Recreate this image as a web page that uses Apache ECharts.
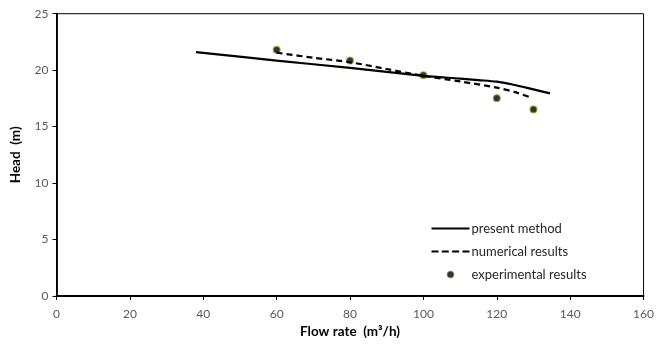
<!DOCTYPE html>
<html>
<head>
<meta charset="utf-8">
<script src="https://cdn.jsdelivr.net/npm/echarts@6/dist/echarts.min.js"></script>
<style>html,body{margin:0;padding:0;background:#fff}#c{width:657px;height:344px}</style>
</head>
<body>
<div id="c"></div>
<script>
const presentX = [38, 60, 80, 100, 110, 115, 120, 124, 128, 134.5];
const presentY = [21.6, 20.85, 20.2, 19.5, 19.25, 19.12, 18.98, 18.75, 18.45, 17.95];
const numericalX = [60, 70, 80, 90, 100, 110, 120, 125, 129.5];
const numericalY = [21.55, 21.1, 20.7, 20.1, 19.5, 19.0, 18.45, 18.05, 17.55];
const expX = [60, 80, 100, 120, 130];
const expY = [21.8, 20.85, 19.55, 17.52, 16.52];
const xTicks = [0, 20, 40, 60, 80, 100, 120, 140, 160];
const yTicks = [0, 5, 10, 15, 20, 25];
const seriesNames = ['present method', 'numerical results', 'experimental results'];

const zip = (a, b) => a.map((v, i) => [v, b[i]]);
const font = 'Lato, "Open Sans", sans-serif';
const solidIcon = 'path://M0,0H38V2.2H0Z';
const dashedIcon = 'path://M0,0H7V2.2H0ZM10.3,0H17.3V2.2H10.3ZM20.6,0H27.6V2.2H20.6ZM31,0H38V2.2H31Z';
const chart = echarts.init(document.getElementById('c'), null, {renderer: 'canvas'});
chart.setOption({
  animation: false,
  textStyle: {fontFamily: font},
  grid: {left: 56.5, right: 12, top: 13.7, bottom: 45.3, show: true, borderColor: '#000', borderWidth: 1},
  xAxis: {
    type: 'value', min: xTicks[0], max: xTicks[xTicks.length - 1], interval: 20,
    name: 'Flow rate  (m³/h)', nameLocation: 'middle', nameGap: 29,
    nameTextStyle: {fontWeight: 'bold', fontSize: 13.5, color: '#000', fontFamily: font},
    axisLine: {lineStyle: {color: '#000', width: 1.8}},
    axisTick: {show: true, length: 4, lineStyle: {color: '#000'}},
    axisLabel: {color: '#595959', fontSize: 12, margin: 12, fontFamily: font},
    splitLine: {show: false}
  },
  yAxis: {
    type: 'value', min: yTicks[0], max: yTicks[yTicks.length - 1], interval: 5,
    name: 'Head  (m)', nameLocation: 'middle', nameGap: 34, nameRotate: 90,
    nameTextStyle: {fontWeight: 'bold', fontSize: 13.5, color: '#000', fontFamily: font},
    axisLine: {lineStyle: {color: '#000', width: 1.8}},
    axisTick: {show: true, length: 4, lineStyle: {color: '#000'}},
    axisLabel: {color: '#595959', fontSize: 12, margin: 8, fontFamily: font},
    splitLine: {show: false}
  },
  legend: {
    orient: 'vertical', left: 426.5, top: 217, itemWidth: 38, itemHeight: 7, itemGap: 10,
    textStyle: {color: '#262626', fontSize: 13, fontFamily: font, padding: [0, 0, 0, -3]},
    data: [
      {name: seriesNames[0], icon: solidIcon, itemStyle: {color: '#000'}},
      {name: seriesNames[1], icon: dashedIcon, itemStyle: {color: '#000'}},
      {name: seriesNames[2], icon: 'circle', itemStyle: {color: '#000', borderColor: '#9ab83c', borderWidth: 1}}
    ]
  },
  series: [
    {name: seriesNames[0], type: 'line', data: zip(presentX, presentY), symbol: 'none', smooth: 0.3,
     lineStyle: {color: '#000', width: 2.2}, itemStyle: {color: '#000'}},
    {name: seriesNames[1], type: 'line', data: zip(numericalX, numericalY), symbol: 'none', smooth: 0.3,
     lineStyle: {color: '#000', width: 2.2, type: [6, 4]}, itemStyle: {color: '#000'}},
    {name: seriesNames[2], type: 'scatter', data: zip(expX, expY), symbol: 'circle', symbolSize: 7,
     itemStyle: {color: '#000', borderColor: '#9ab83c', borderWidth: 1.2}}
  ]
});
</script>
</body>
</html>
